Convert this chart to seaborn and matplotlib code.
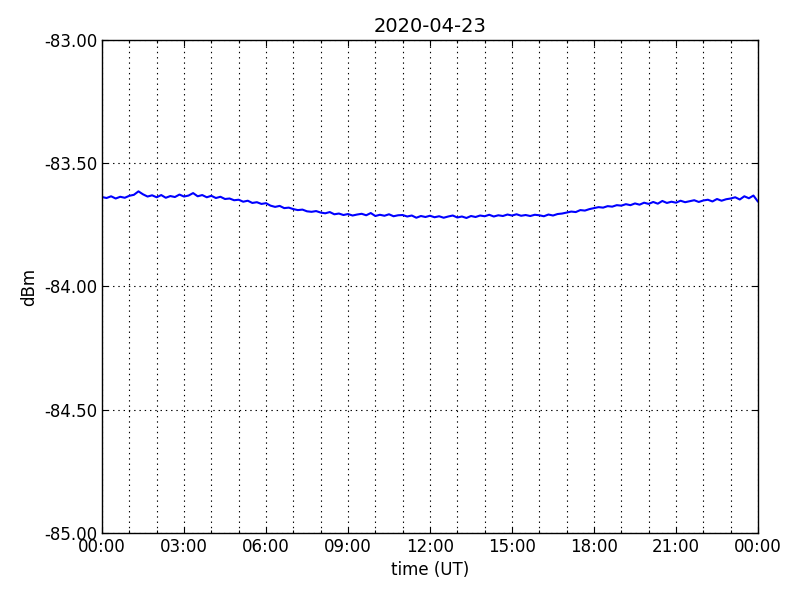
import pandas as pd
import numpy as np
import matplotlib
matplotlib.use("Agg")
import matplotlib.pyplot as plt
import matplotlib.dates as mdates
import matplotlib.ticker as mticker
import seaborn as sns

# ── Données (lues sur le graphique, pas de 10 min) ─────────────────────────────
START = "2020-04-23 00:00"
N_POINTS = 145
dbm = [
    -83.637, -83.641, -83.634, -83.643, -83.636, -83.640,
    -83.632, -83.628, -83.614, -83.626, -83.635, -83.630,
    -83.638, -83.629, -83.640, -83.633, -83.637, -83.627,
    -83.635, -83.631, -83.621, -83.634, -83.629, -83.638,
    -83.632, -83.641, -83.636, -83.645, -83.643, -83.650,
    -83.648, -83.656, -83.652, -83.661, -83.658, -83.665,
    -83.662, -83.672, -83.677, -83.673, -83.682, -83.680,
    -83.686, -83.690, -83.688, -83.695, -83.697, -83.694,
    -83.700, -83.703, -83.698, -83.707, -83.704, -83.710,
    -83.706, -83.712, -83.708, -83.705, -83.711, -83.702,
    -83.714, -83.709, -83.713, -83.707, -83.715, -83.711,
    -83.710, -83.716, -83.712, -83.721, -83.714, -83.718,
    -83.713, -83.719, -83.715, -83.721, -83.716, -83.712,
    -83.720, -83.716, -83.722, -83.714, -83.718, -83.712,
    -83.715, -83.709, -83.716, -83.711, -83.714, -83.708,
    -83.712, -83.707, -83.713, -83.710, -83.714, -83.709,
    -83.711, -83.715, -83.708, -83.712, -83.706, -83.704,
    -83.700, -83.696, -83.698, -83.690, -83.692, -83.686,
    -83.682, -83.678, -83.680, -83.674, -83.676, -83.670,
    -83.672, -83.666, -83.670, -83.663, -83.668, -83.660,
    -83.665, -83.657, -83.664, -83.653, -83.661, -83.656,
    -83.660, -83.652, -83.658, -83.654, -83.650, -83.657,
    -83.651, -83.648, -83.655, -83.645, -83.652, -83.646,
    -83.643, -83.638, -83.647, -83.634, -83.642, -83.631,
    -83.656,
]
y_ticks = [-85.0, -84.5, -84.0, -83.5, -83.0]

df = pd.DataFrame({
    "time": pd.date_range(START, periods=N_POINTS, freq="10min"),
    "dBm": dbm,
})

# ── Style ──────────────────────────────────────────────────────────────────────
sns.set_theme(style="ticks")
plt.rcParams["font.family"] = ["DejaVu Sans"]
plt.rcParams["text.color"] = "black"
plt.rcParams["axes.labelcolor"] = "black"
plt.rcParams["xtick.direction"] = "in"
plt.rcParams["ytick.direction"] = "in"
plt.rcParams["lines.scale_dashes"] = False

fig, ax = plt.subplots(figsize=(8, 6), dpi=100)
fig.subplots_adjust(left=0.1275, right=0.9475, top=0.9333, bottom=0.1117)

sns.lineplot(data=df, x="time", y="dBm", color="blue", linewidth=1.5, ax=ax)

ax.set_xlim(df["time"].iloc[0], df["time"].iloc[-1])
ax.set_ylim(-85, -83)
ax.set_yticks(y_ticks)
ax.yaxis.set_major_formatter(mticker.FormatStrFormatter("%.2f"))
ax.xaxis.set_major_locator(mdates.HourLocator(byhour=range(0, 24, 3)))
ax.xaxis.set_minor_locator(mdates.HourLocator())
ax.xaxis.set_major_formatter(mdates.DateFormatter("%H:%M"))

grid_ls = (0, (1, 2.8))
ax.grid(True, which="major", color="black", linestyle=grid_ls, linewidth=0.8)
ax.grid(True, which="minor", axis="x", color="black", linestyle=grid_ls, linewidth=0.8)
ax.tick_params(which="both", labelsize=12, color="black", labelcolor="black",
               top=True, right=True, length=4, width=0.8)
ax.tick_params(which="minor", length=2)
for s in ax.spines.values():
    s.set_color("black")
    s.set_linewidth(1.0)

ax.set_title("2020-04-23", fontsize=14, color="black")
ax.set_xlabel("time (UT)", fontsize=12)
ax.set_ylabel("dBm", fontsize=12)

plt.savefig("out.png", dpi=100)
plt.close()
